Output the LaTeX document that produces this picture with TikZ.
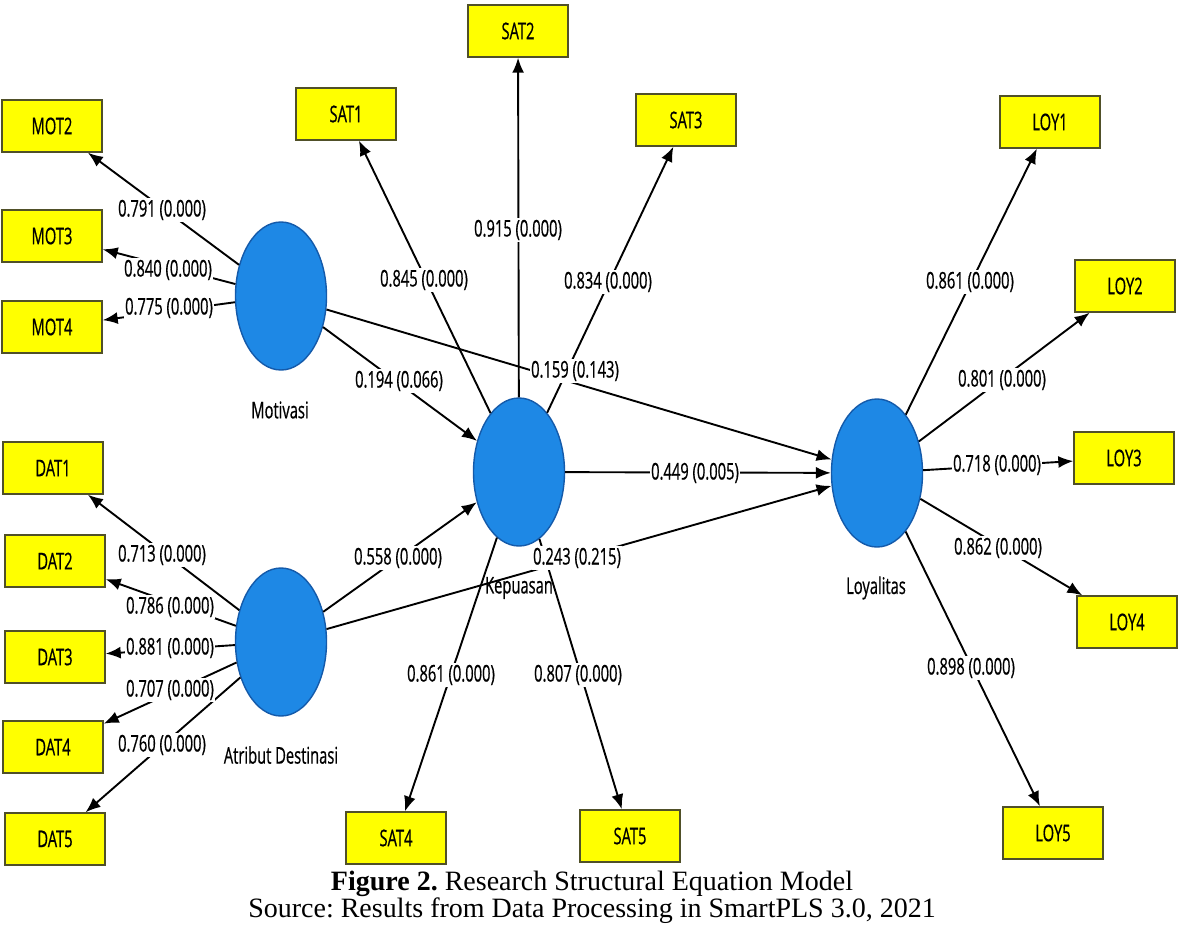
\documentclass[tikz,border=0pt]{standalone}
\usepackage{fontspec}
\setmainfont{Liberation Serif}
\newfontfamily\plsfont[FakeStretch=0.64,FakeBold=0.6]{Open Sans}
\usetikzlibrary{arrows.meta,shapes.geometric}
\definecolor{lvblue}{RGB}{30,136,229}
\definecolor{lvedge}{RGB}{20,90,170}
\definecolor{indyel}{RGB}{255,255,0}
\definecolor{indedge}{RGB}{80,80,40}
\frenchspacing
\begin{document}
\begin{tikzpicture}[x=1pt,y=-1pt,
  latent/.style={ellipse,draw=lvedge,line width=1.4pt,fill=lvblue,minimum width=91pt,minimum height=148pt,inner sep=0pt},
  indbox/.style={rectangle,draw=indedge,line width=1.4pt,fill=indyel,minimum width=100pt,minimum height=52pt,inner sep=0pt,font=\plsfont\fontsize{23}{25}\selectfont},
  lbl/.style={fill=white,inner sep=1.5pt,font=\plsfont\fontsize{23}{25}\selectfont},
  lvname/.style={inner sep=0pt,font=\plsfont\fontsize{23}{25}\selectfont},
  conn/.style={draw=black,line width=1.9pt,-{Latex[length=15pt,width=12pt]}},
  captext/.style={inner sep=0pt,font=\fontsize{28}{30}\selectfont}
]
\useasboundingbox (0,0) rectangle (1182,936);

% latent variables
\node[latent] (mot) at (281,296) {};
\node[latent] (atr) at (281,642) {};
\node[latent] (kep) at (519,472) {};
\node[latent] (loy) at (877,473) {};

% indicators
\node[indbox] (mot2) at (52,126) {MOT2};
\node[indbox] (mot3) at (52,236) {MOT3};
\node[indbox] (mot4) at (52,327) {MOT4};
\node[indbox] (dat1) at (53,468) {DAT1};
\node[indbox] (dat2) at (55,561) {DAT2};
\node[indbox] (dat3) at (55,657) {DAT3};
\node[indbox] (dat4) at (53,747) {DAT4};
\node[indbox] (dat5) at (55,839) {DAT5};
\node[indbox] (sat1) at (346,114) {SAT1};
\node[indbox] (sat2) at (518,31) {SAT2};
\node[indbox] (sat3) at (686,120) {SAT3};
\node[indbox] (sat4) at (396,838) {SAT4};
\node[indbox] (sat5) at (630,836) {SAT5};
\node[indbox] (loy1) at (1050,122) {LOY1};
\node[indbox] (loy2) at (1125,286) {LOY2};
\node[indbox] (loy3) at (1124,458) {LOY3};
\node[indbox] (loy4) at (1127,622) {LOY4};
\node[indbox] (loy5) at (1053,833) {LOY5};

% connectors
\draw[conn] (mot) -- (mot2);
\draw[conn] (mot) -- (mot3);
\draw[conn] (mot) -- (mot4);
\draw[conn] (atr) -- (dat1);
\draw[conn] (atr) -- (dat2);
\draw[conn] (atr) -- (dat3);
\draw[conn] (atr) -- (dat4);
\draw[conn] (atr) -- (dat5);
\draw[conn] (kep) -- (sat1);
\draw[conn] (kep) -- (sat2);
\draw[conn] (kep) -- (sat3);
\draw[conn] (kep) -- (sat4);
\draw[conn] (kep) -- (sat5);
\draw[conn] (loy) -- (loy1);
\draw[conn] (loy) -- (loy2);
\draw[conn] (loy) -- (loy3);
\draw[conn] (loy) -- (loy4);
\draw[conn] (loy) -- (loy5);
\draw[conn] (mot) -- (kep);
\draw[conn] (atr) -- (kep);
\draw[conn] (mot) -- (loy);
\draw[conn] (kep) -- (loy);
\draw[conn] (atr) -- (loy);

% connector labels
\node[lbl] (lm2) at (162,210) {0.791 (0.000)};
\node[lbl] (lm3) at (168,270) {0.840 (0.000)};
\node[lbl] (lm4) at (169,308) {0.775 (0.000)};
\node[lbl] (ld1) at (162,555) {0.713 (0.000)};
\node[lbl] (ld2) at (170,607) {0.786 (0.000)};
\node[lbl] (ld3) at (170,648) {0.881 (0.000)};
\node[lbl] (ld4) at (170,690) {0.707 (0.000)};
\node[lbl] (ld5) at (162,745) {0.760 (0.000)};
\node[lbl] (ls1) at (424,280) {0.845 (0.000)};
\node[lbl] (ls2) at (518,230) {0.915 (0.000)};
\node[lbl] (ls3) at (608,282) {0.834 (0.000)};
\node[lbl] (ls4) at (451,675) {0.861 (0.000)};
\node[lbl] (ls5) at (578,675) {0.807 (0.000)};
\node[lbl] (ll1) at (970,282) {0.861 (0.000)};
\node[lbl] (ll2) at (1002,380) {0.801 (0.000)};
\node[lbl] (ll3) at (997,465) {0.718 (0.000)};
\node[lbl] (ll4) at (998,548) {0.862 (0.000)};
\node[lbl] (ll5) at (971,668) {0.898 (0.000)};
\node[lbl] (lmk) at (399,381) {0.194 (0.066)};
\node[lbl] (lml) at (575,371) {0.159 (0.143)};
\node[lbl] (lkl) at (695,473) {0.449 (0.005)};
\node[lbl] (lak) at (398,558) {0.558 (0.000)};
\node[lbl] (lal) at (577,558) {0.243 (0.215)};

% latent names
\node[lvname] (nmot) at (280,410) {Motivasi};
\node[lvname] (natr) at (281,755) {Atribut Destinasi};
\node[lvname] (nkep) at (519,588) {Kepuasan};
\node[lvname] (nloy) at (876,588) {Loyalitas};

% caption
\node[captext] (cap1) at (592,884) {\textbf{Figure 2.} Research Structural Equation Model};
\node[captext] (cap2) at (592,911) {Source: Results from Data Processing in SmartPLS 3.0, 2021};
\end{tikzpicture}
\end{document}
